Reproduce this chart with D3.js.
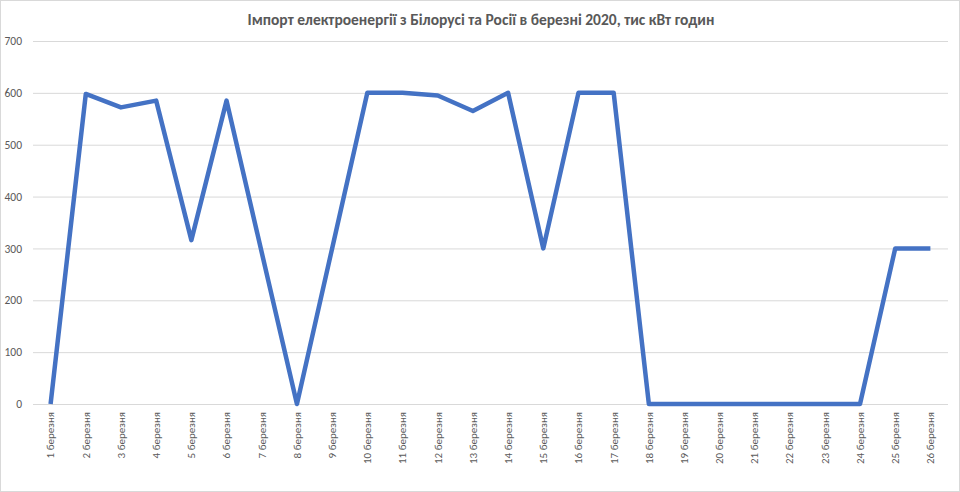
<!DOCTYPE html>
<html>
<head>
<meta charset="utf-8">
<script src="https://cdn.jsdelivr.net/npm/d3@7"></script>
<style>
  body { margin: 0; background: #fff; }
  #chart { width: 960px; height: 492px; }
  text { font-family: Calibri, "Liberation Sans", "Open Sans", sans-serif; }
</style>
</head>
<body>
<div id="chart"></div>
<script>
// data
const days = ["1 березня","2 березня","3 березня","4 березня","5 березня","6 березня","7 березня","8 березня","9 березня","10 березня","11 березня","12 березня","13 березня","14 березня","15 березня","16 березня","17 березня","18 березня","19 березня","20 березня","21 березня","22 березня","23 березня","24 березня","25 березня","26 березня"];
const imports = [0, 598, 572, 585, 316, 585, 292, 0, 300, 600, 600, 595, 565, 600, 300, 600, 600, 0, 0, 0, 0, 0, 0, 0, 300, 300];
const yTicks = [0, 100, 200, 300, 400, 500, 600, 700];
const title = "Імпорт електроенергії з Білорусі та Росії в березні 2020, тис кВт годин";

var W = 960, H = 492,
    margin = {top: 41, right: 12, bottom: 88, left: 33},
    width = W - margin.left - margin.right,
    height = H - margin.top - margin.bottom;

var svg = d3.select("#chart").append("svg")
    .attr("width", W)
    .attr("height", H);

// outer frame
svg.append("rect")
  .attr("x", 0.5).attr("y", 0.5)
  .attr("width", W - 1).attr("height", H - 1)
  .attr("fill", "#fff")
  .attr("stroke", "#d9d9d9");

svg.append("text")
  .attr("x", 481)
  .attr("y", 25)
  .attr("text-anchor", "middle")
  .style("font-size", "15.5px")
  .style("font-weight", "bold")
  .attr("fill", "#595959")
  .text(title);

var g = svg.append("g").attr("transform", "translate(" + margin.left + "," + margin.top + ")");

var x = d3.scaleBand().domain(days).range([0, width]);
var y = d3.scaleLinear().domain([0, 700]).range([height, 0]);

// gridlines + y labels
var yAxis = g.append("g")
  .call(d3.axisLeft(y).tickValues(yTicks).tickSize(-width).tickFormat(d3.format("d")));
yAxis.select(".domain").remove();
yAxis.selectAll(".tick line").attr("stroke", "#d9d9d9");
yAxis.selectAll(".tick text")
  .attr("x", -11)
  .attr("fill", "#595959")
  .style("font-size", "11.5px");

// x labels
var xAxis = g.append("g")
  .attr("transform", "translate(0," + height + ")")
  .call(d3.axisBottom(x).tickSize(0));
xAxis.select(".domain").remove();
xAxis.selectAll(".tick text")
  .attr("transform", "rotate(-90)")
  .attr("text-anchor", "end")
  .attr("x", -8)
  .attr("y", 0)
  .attr("dy", "0.35em")
  .attr("fill", "#595959")
  .style("font-size", "11px");

var line = d3.line()
  .x(function(d, i) { return x(days[i]) + x.bandwidth() / 2; })
  .y(function(d) { return y(d); });

g.append("path")
  .datum(imports)
  .attr("d", line)
  .attr("fill", "none")
  .attr("stroke", "#4472c4")
  .attr("stroke-width", 4.5)
  .attr("stroke-linejoin", "round");
</script>
</body>
</html>
